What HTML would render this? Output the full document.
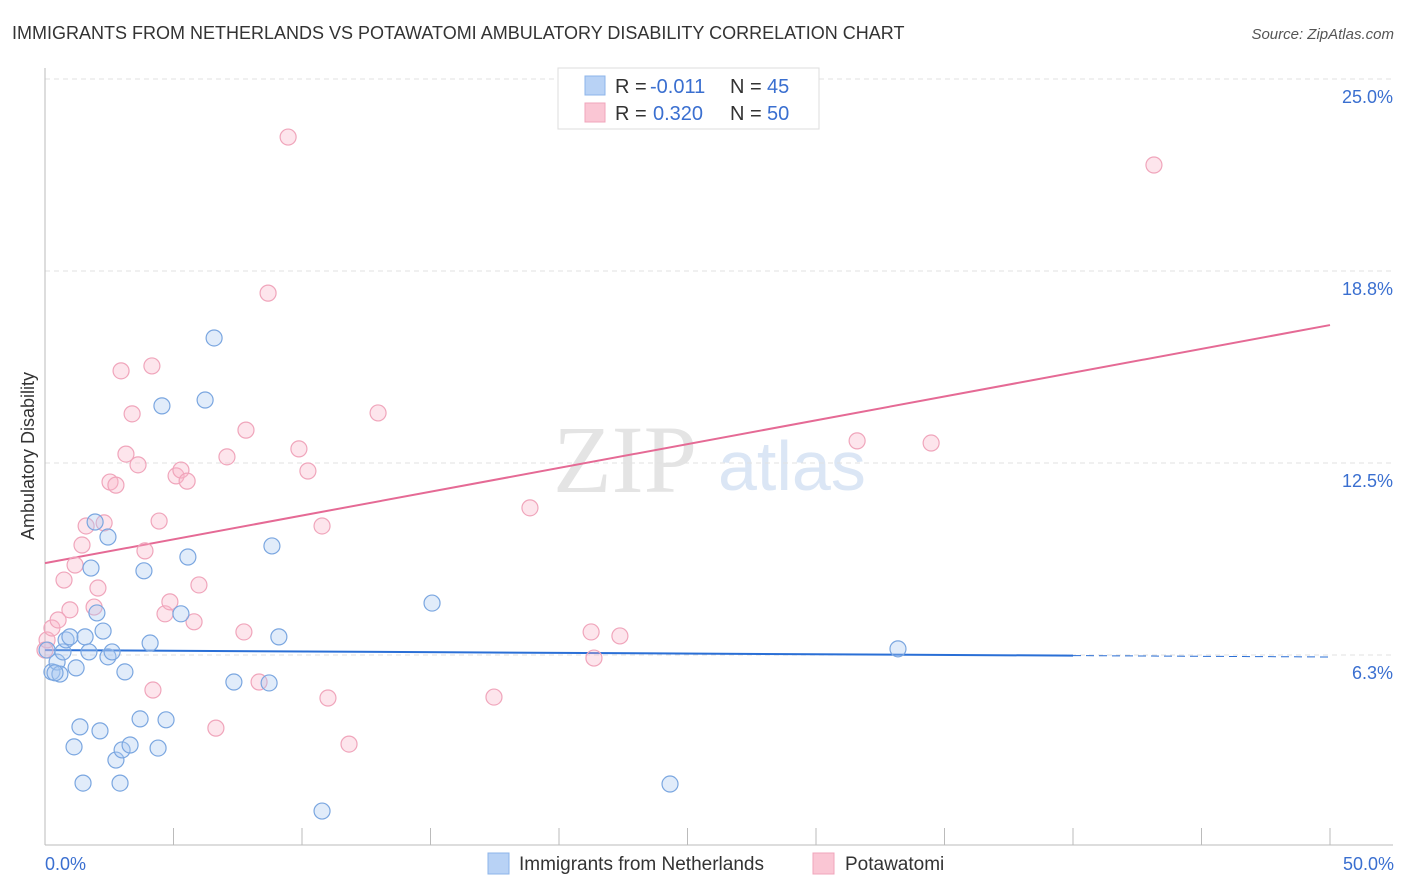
<!DOCTYPE html>
<html><head><meta charset="utf-8"><style>
body{margin:0;background:#fff;font-family:"Liberation Sans",sans-serif;}
svg{display:block}
</style></head><body>
<svg id="chart" width="1406" height="892">
<text x="12" y="39" font-size="18" fill="#333">IMMIGRANTS FROM NETHERLANDS VS POTAWATOMI AMBULATORY DISABILITY CORRELATION CHART</text>
<text x="1394" y="39" font-size="15" fill="#555" font-style="italic" text-anchor="end">Source: ZipAtlas.com</text>
<g>
<text x="553" y="492" font-size="96" fill="#e4e4e4" font-family="Liberation Serif,serif">ZIP</text>
<text x="718" y="490" font-size="70" fill="#dbe6f5">atlas</text>
</g>
<g id="grid"></g>
<g id="axes"></g>
<g id="trends"></g>
<g id="points"></g>
<text transform="translate(34,456) rotate(-90)" font-size="18" fill="#333" text-anchor="middle">Ambulatory Disability</text>
<text x="45" y="870" font-size="18" fill="#3a6fd0">0.0%</text>
<text x="1394" y="870" font-size="18" fill="#3a6fd0" text-anchor="end">50.0%</text>
<g>
<rect x="558" y="68" width="261" height="61" fill="#fff" stroke="#ddd"/>
<rect x="585" y="76" width="20" height="19" fill="#b8d2f5" stroke="#8db4ea"/>
<rect x="585" y="103" width="20" height="19" fill="#fac6d4" stroke="#f0a5bb"/>
<text x="615" y="93" font-size="20" fill="#333">R = </text><text x="650" y="93" font-size="20" fill="#3a6fd0">-0.011</text>
<text x="730" y="93" font-size="20" fill="#333">N = </text><text x="767" y="93" font-size="20" fill="#3a6fd0">45</text>
<text x="615" y="120" font-size="20" fill="#333">R = </text><text x="653" y="120" font-size="20" fill="#3a6fd0">0.320</text>
<text x="730" y="120" font-size="20" fill="#333">N = </text><text x="767" y="120" font-size="20" fill="#3a6fd0">50</text>
</g>
<g>
<rect x="488" y="853" width="21" height="21" fill="#b8d2f5" stroke="#8db4ea"/>
<text x="519" y="870" font-size="19" fill="#333">Immigrants from Netherlands</text>
<rect x="813" y="853" width="21" height="21" fill="#fac6d4" stroke="#f0a5bb"/>
<text x="845" y="870" font-size="19" fill="#333">Potawatomi</text>
</g>
</svg>
<script>
const yTicks=[25.0,18.75,12.5,6.25];
const yTickLabels=["25.0%","18.8%","12.5%","6.3%"];
const xTicks=[0,5,10,15,20,25,30,35,40,45,50];
const blueX=[0.27,0.47,0.58,0.08,0.70,0.82,0.97,1.21,1.56,1.71,1.79,1.95,2.02,2.26,2.45,2.45,2.61,3.11,1.36,1.13,2.14,1.48,2.92,2.76,3.00,3.31,3.70,4.40,4.71,3.85,4.09,4.55,5.29,5.56,6.23,6.58,7.35,8.72,8.83,9.10,10.78,15.06,24.32,33.19,0.39];
const blueY=[5.70,6.02,5.63,6.41,6.35,6.74,6.84,5.83,6.84,6.35,9.08,10.58,7.62,7.03,10.09,6.19,6.35,5.70,3.91,3.26,3.78,2.08,2.08,2.83,3.16,3.32,4.17,3.22,4.14,8.99,6.64,14.36,7.59,9.44,14.55,16.57,5.37,5.34,9.80,6.84,1.17,7.94,2.05,6.45,5.67];
const pinkX=[0.08,0.27,0.51,0.74,0.97,1.17,1.44,1.60,1.91,2.06,2.30,2.53,2.76,2.96,3.15,3.39,3.62,3.89,4.16,4.20,4.44,4.67,4.86,5.10,5.29,5.53,5.80,5.99,6.65,7.08,7.74,7.82,8.33,8.68,9.46,9.88,10.23,10.78,11.01,11.83,12.96,17.47,18.87,21.25,21.36,22.37,31.60,34.48,43.15,0.00];
const pinkY=[6.74,7.13,7.39,8.69,7.72,9.18,9.83,10.45,7.81,8.43,10.55,11.88,11.78,15.50,12.79,14.10,12.44,9.64,15.66,5.11,10.61,7.59,7.98,12.08,12.27,11.91,7.33,8.53,3.87,12.70,7.00,13.57,5.37,18.03,23.11,12.96,12.24,10.45,4.85,3.35,14.13,4.88,11.04,7.00,6.15,6.87,13.22,13.15,22.20,6.41];
const blueTrend=[6.41,6.185];
const pinkTrend=[9.24,16.99];
const NS="http://www.w3.org/2000/svg";
const X=v=>45+v/50*1285;
const Y=v=>79+(25-v)*30.72;
function mk(tag,attrs,parent){const e=document.createElementNS(NS,tag);for(const k in attrs)e.setAttribute(k,attrs[k]);document.getElementById(parent).appendChild(e);return e;}
yTicks.forEach((t,i)=>{
 const g=mk('line',{x1:45,x2:1393,y1:Y(t),y2:Y(t),stroke:'#e2e2e2','stroke-dasharray':'5,4'},'grid');
 
 
 const l=mk('text',{x:1393,y:Y(t)+24,'font-size':18,fill:'#3a6fd0','text-anchor':'end'},'grid');
 l.textContent=yTickLabels[i];
 
 
});
const xa=mk('line',{x1:45,x2:1393,y1:845,y2:845,stroke:'#bbb'},'axes');


const ya=mk('line',{x1:45,x2:45,y1:68,y2:845,stroke:'#bbb'},'axes');


xTicks.forEach(t=>{
 const tk=mk('line',{x1:X(t),x2:X(t),y1:828,y2:845,stroke:'#bbb'},'axes');
 
 
});
function pt(x,y,fill,stroke,name){
 const c=mk('circle',{cx:X(x),cy:Y(y),r:8,fill:fill,stroke:stroke,'stroke-width':1.2},'points');
 
 
}
pinkX.forEach((x,i)=>pt(x,pinkY[i],'rgba(248,180,200,0.35)','#f0a5bb','potawatomi-point'));
blueX.forEach((x,i)=>pt(x,blueY[i],'rgba(170,200,240,0.35)','#7aa6e0','netherlands-point'));
const bEnd=40;
const byEnd=blueTrend[0]+(blueTrend[1]-blueTrend[0])*bEnd/50;
const bt=mk('line',{x1:X(0),y1:Y(blueTrend[0]),x2:X(bEnd),y2:Y(byEnd),stroke:'#2a6fd6','stroke-width':2},'trends');


const bd=mk('line',{x1:X(bEnd),y1:Y(byEnd),x2:X(50),y2:Y(blueTrend[1]),stroke:'#2a6fd6','stroke-width':1,'stroke-dasharray':'8,5'},'trends');


const pt2=mk('line',{x1:X(0),y1:Y(pinkTrend[0]),x2:X(50),y2:Y(pinkTrend[1]),stroke:'#e56a95','stroke-width':2},'trends');


</script>
</body></html>
